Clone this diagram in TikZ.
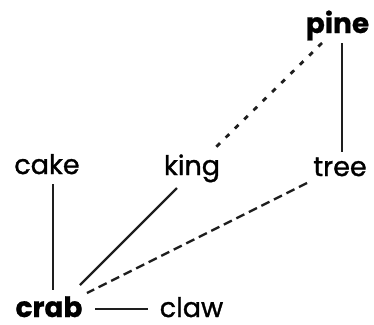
\documentclass[tikz,border=0pt]{standalone}
\usepackage{fontspec}
\setmainfont{Poppins}
\newfontfamily\wordfont{Poppins}[FakeBold=1.2]
\newfontfamily\headfont{Poppins Bold}[FakeBold=0.8]
\usepackage{xcolor}
\usepackage{tikz}
\usetikzlibrary{arrows.meta,positioning,calc}
\definecolor{inkgray}{HTML}{1E1E1E}

\tikzset{
  word/.style={inner sep=0pt, anchor=base, text=black, font=\wordfont\fontsize{27}{30}\selectfont},
  headword/.style={word, font=\headfont\fontsize{28}{30}\selectfont},
  link/.style={draw=inkgray, line width=2.3pt},
  weaklink/.style={link, dash pattern=on 9pt off 5pt},
  faintlink/.style={link, line width=2.8pt, dash pattern=on 5pt off 8pt}
}

\begin{document}
\begin{tikzpicture}[x=1pt,y=-1pt]
  \useasboundingbox (0,0) rectangle (374,324);
  % words
  \node[headword] (pine) at (337.5,33) {pine};
  \node[word] (cake) at (47,174) {cake};
  \node[word] (king) at (192,175) {king};
  \node[word] (tree) at (340,176) {tree};
  \node[headword] (crab) at (49,317) {crab};
  \node[word] (claw) at (191.5,317) {claw};
  % links
  \draw[link] ([shift={(6,10)}]cake.base) -- ([shift={(4,-27)}]crab.base);
  \draw[link] ([shift={(-15,13)}]king.base) -- ([shift={(31,-32)}]crab.base);
  \draw[weaklink] ([shift={(-33,7)}]tree.base) -- ([shift={(38,-24)}]crab.base);
  \draw[faintlink] ([shift={(-15.5,10)}]pine.base) -- ([shift={(21,-25)}]king.base);
  \draw[link] ([shift={(4.5,10)}]pine.base) -- ([shift={(2,-24)}]tree.base);
  \draw[link] ([shift={(46,-8)}]crab.base) -- ([shift={(-43.5,-8)}]claw.base);
\end{tikzpicture}
\end{document}
